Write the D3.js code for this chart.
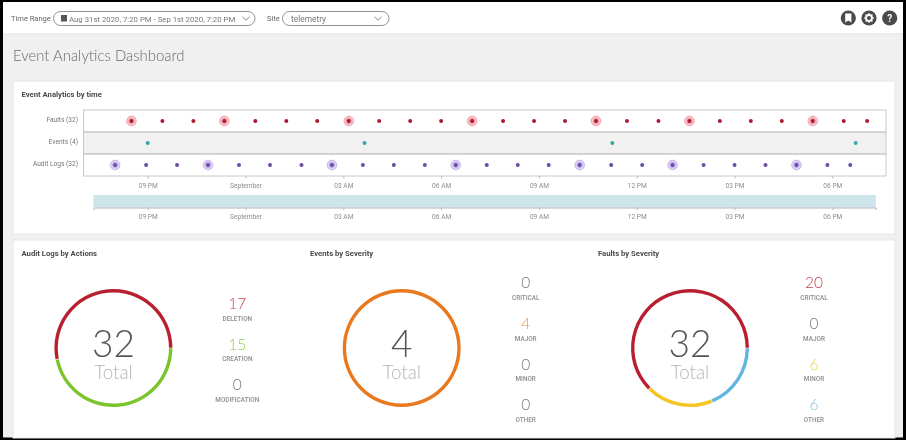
<!DOCTYPE html>
<html>
<head>
<meta charset="utf-8">
<script src="https://cdn.jsdelivr.net/npm/d3@7"></script>
<style>
  html, body { margin: 0; padding: 0; background: #000; }
  svg { display: block; font-family: Roboto, "Open Sans", sans-serif; will-change: transform; }
  .tick text { font-size: 6.6px; fill: #8c8c8c; font-family: Roboto, sans-serif; }
  .tick line { stroke: #bbb; }
  .domain { stroke: #b5b5b5; }
  .light { font-family: Lato, Roboto, sans-serif; }
</style>
</head>
<body>
<svg id="page" width="906" height="440"></svg>
<script>
const rowNames = ["Faults (32)", "Events (4)", "Audit Logs (32)"];

const faultTimes = ["20:30","21:27","22:24","23:21","00:18","01:15","02:12","03:10","04:06","05:03","06:00","06:57","07:54","08:51","09:48","10:45","11:42","12:40","13:37","14:33","15:30","16:27","17:24","18:21","19:04"];
const faultClusters = ["20:30","23:21","03:10","06:57","10:45","13:37","17:24"];
const eventTimes = ["21:00","03:39","11:15","18:43"];
const auditTimes = ["20:00","20:57","21:54","22:51","23:48","00:45","01:43","02:39","03:36","04:33","05:30","06:27","07:24","08:21","09:18","10:15","11:13","12:10","13:06","14:03","15:00","15:57","16:54","17:51","18:33"];
const auditClusters = ["20:00","22:51","02:39","06:27","10:15","13:06","16:54"];

const auditLabels = ["DELETION","CREATION","MODIFICATION"];
const auditValues = [17,15,0];
const auditColors = ["#b9202f","#7cc42c","#777"];
const severityLabels = ["CRITICAL","MAJOR","MINOR","OTHER"];
const eventValues = [0,4,0,0];
const faultValues = [20,0,6,6];
const severityColors = ["#b9202f","#e8791f","#f5c623","#62b5dc"];

// 19:20 is the left edge of the range, anything before it is the next day
function toDate(s) {
  const [h, m] = s.split(":").map(Number);
  const afterStart = h * 60 + m >= 19 * 60 + 20;
  return new Date(2020, afterStart ? 7 : 8, afterStart ? 31 : 1, h, m);
}

const svg = d3.select("#page");

// page background
svg.append("rect").attr("x", 3).attr("y", 2).attr("width", 900).attr("height", 435.5).attr("fill", "#f0f0f0");
svg.append("rect").attr("x", 3).attr("y", 2).attr("width", 900).attr("height", 31.5).attr("fill", "#fff");
svg.append("line").attr("x1", 3).attr("x2", 903).attr("y1", 34).attr("y2", 34).attr("stroke", "#e4e4e4");

// header controls
function label(x, y, txt, size, color, weight, anchor) {
  return svg.append("text").attr("x", x).attr("y", y).text(txt)
    .attr("font-size", size).attr("fill", color)
    .attr("font-weight", weight || 400).attr("text-anchor", anchor || "start");
}
function pill(x, w) {
  svg.append("rect").attr("x", x).attr("y", 11.5).attr("width", w).attr("height", 14).attr("rx", 7)
    .attr("fill", "#fff").attr("stroke", "#777").attr("stroke-width", 0.8);
}
function chevron(x) {
  svg.append("path").attr("d", `M${x - 3.5},16.8L${x},20.2L${x + 3.5},16.8`)
    .attr("fill", "none").attr("stroke", "#666").attr("stroke-width", 0.8);
}
label(11, 21, "Time Range", 7.5, "#666");
pill(53.5, 201.5);
svg.append("rect").attr("x", 61).attr("y", 15).attr("width", 6).attr("height", 6.5).attr("fill", "#555");
label(69, 21.5, "Aug 31st 2020, 7:20 PM - Sep 1st 2020, 7:20 PM", 7.8, "#777");
chevron(246);
label(267, 21, "Site", 7.5, "#666");
pill(282.5, 106.5);
label(291, 21.5, "telemetry", 8.4, "#777");
chevron(378);

// right hand icons
const iconColor = "#4a4a4a";
[848.3, 869, 889.7].forEach(x => {
  svg.append("circle").attr("cx", x).attr("cy", 18).attr("r", 7.6).attr("fill", iconColor);
});
svg.append("path").attr("d", "M845.2,13.6h6.2v9l-3.1,-2.2l-3.1,2.2z").attr("fill", "#fff");
svg.append("circle").attr("cx", 869).attr("cy", 18).attr("r", 3).attr("fill", "none").attr("stroke", "#fff").attr("stroke-width", 1.8);
d3.range(8).forEach(i => {
  const a = i * Math.PI / 4;
  svg.append("circle").attr("cx", 869 + 4.2 * Math.cos(a)).attr("cy", 18 + 4.2 * Math.sin(a)).attr("r", 0.8).attr("fill", "#fff");
});
label(889.7, 21.6, "?", 10, "#fff", 700, "middle");

label(13, 60.5, "Event Analytics Dashboard", 14.9, "#6a6a6a", 300).attr("class", "light");

// cards
function card(x, y, w, h) {
  svg.append("rect").attr("x", x).attr("y", y).attr("width", w).attr("height", h)
    .attr("fill", "#fff").attr("stroke", "#e6e6e6");
}
card(13, 81, 882, 153);
card(13, 240, 882, 198);

label(21.5, 97, "Event Analytics by time", 7.7, "#4a4a4a", 700);

// timeline
const start = new Date(2020, 7, 31, 19, 20), end = new Date(2020, 8, 1, 19, 20);
const x = d3.scaleTime().domain([start, end]).range([93.4, 875.8]);
const y = d3.scaleBand().domain(rowNames).range([110, 176]);
const rowColors = { "Faults (32)": "#a81c33", "Events (4)": "#3aa99f", "Audit Logs (32)": "#6b4aa8" };

const frameRight = 886, frameLeft = 83.5;
svg.append("rect").attr("x", frameLeft).attr("y", y("Events (4)")).attr("width", frameRight - frameLeft)
  .attr("height", y.bandwidth()).attr("fill", "#f1f1f1");
rowNames.forEach(r => {
  svg.append("rect").attr("x", frameLeft).attr("y", y(r)).attr("width", frameRight - frameLeft)
    .attr("height", y.bandwidth()).attr("fill", "none").attr("stroke", "#c8c8c8");
  label(frameLeft - 5.5, y(r) + y.bandwidth() / 2 + 1, r, 6.6, "#777", 400, "end");
});

const axis = d3.axisBottom(x).ticks(d3.timeHour.every(3)).tickSize(2.5).tickSizeOuter(0);
const axisG = svg.append("g").attr("transform", "translate(0,176)").call(axis);
axisG.select(".domain").remove();
axisG.selectAll(".tick text").attr("y", 7);

function drawRow(name, times, clusters) {
  const cy = y(name) + y.bandwidth() / 2, color = rowColors[name];
  const ring = name.startsWith("Faults") ? "#e0223c" : "#7a4fd0";
  const g = svg.append("g");
  g.selectAll("g.big").data(clusters).join("g").attr("class", "big")
    .each(function (t) {
      const cx = x(toDate(t)), s = d3.select(this);
      s.append("circle").attr("cx", cx).attr("cy", cy).attr("r", 4.9)
        .attr("fill", ring).attr("fill-opacity", 0.3).attr("stroke", ring).attr("stroke-opacity", 0.5).attr("stroke-width", 0.5);
      s.append("circle").attr("cx", cx).attr("cy", cy).attr("r", 3.6)
        .attr("fill", "none").attr("stroke", "#fff").attr("stroke-opacity", 0.6).attr("stroke-width", 0.5);
      s.append("circle").attr("cx", cx).attr("cy", cy).attr("r", 2.7)
        .attr("fill", "none").attr("stroke", ring).attr("stroke-opacity", 0.45).attr("stroke-width", 0.6);
    });
  g.selectAll("circle.dot").data(times).join("circle").attr("class", "dot")
    .attr("cx", t => x(toDate(t))).attr("cy", cy).attr("r", 2).attr("fill", color);
}
drawRow("Faults (32)", faultTimes, faultClusters);
drawRow("Events (4)", eventTimes, []);
drawRow("Audit Logs (32)", auditTimes, auditClusters);

// brush strip
svg.append("rect").attr("x", x(start)).attr("y", 195).attr("width", x(end) - x(start)).attr("height", 12.5).attr("fill", "#cde5eb");
const brushAxis = d3.axisBottom(x).ticks(d3.timeHour.every(3)).tickSize(2.5).tickSizeOuter(2.5);
const brushG = svg.append("g").attr("transform", "translate(0,207.5)").call(brushAxis);
brushG.selectAll(".tick text").attr("y", 7);

// donuts
function donut(cx, title, titleX, total, values, colors, labels, legendX, legendY) {
  label(titleX, 256, title, 7.7, "#4a4a4a", 700);
  const pie = d3.pie().sort(null).startAngle(Math.PI / 2).endAngle(Math.PI / 2 - 2 * Math.PI);
  const arc = d3.arc().innerRadius(55.6).outerRadius(59).padAngle(0.012).padRadius(57);
  svg.append("g").attr("transform", `translate(${cx},348)`)
    .selectAll("path").data(pie(values)).join("path")
    .attr("d", arc).attr("fill", (d, i) => colors[i]);
  label(cx, 356.5, total, 37, "#555", 300, "middle").attr("class", "light");
  label(cx, 379, "Total", 18.8, "#b5b5b5", 300, "middle").attr("class", "light");
  labels.forEach((l, i) => {
    label(legendX, legendY[i] + 6, values[i], 15.5, values[i] ? colors[i] : "#777", 300, "middle")
      .attr("class", "light").attr("fill-opacity", values[i] ? 0.85 : 1);
    label(legendX, legendY[i] + 17.5, l, 6.4, "#8c8c8c", 500, "middle");
  });
}
donut(113.4, "Audit Logs by Actions", 21.5, "32", auditValues, auditColors, auditLabels, 237.3, [303, 343.5, 384]);
donut(401.7, "Events by Severity", 310, "4", eventValues, severityColors, severityLabels, 525.7, [282.3, 323, 363.5, 404]);
donut(690, "Faults by Severity", 598, "32", faultValues, severityColors, severityLabels, 814, [282.3, 323, 363.5, 404]);
</script>
</body>
</html>
